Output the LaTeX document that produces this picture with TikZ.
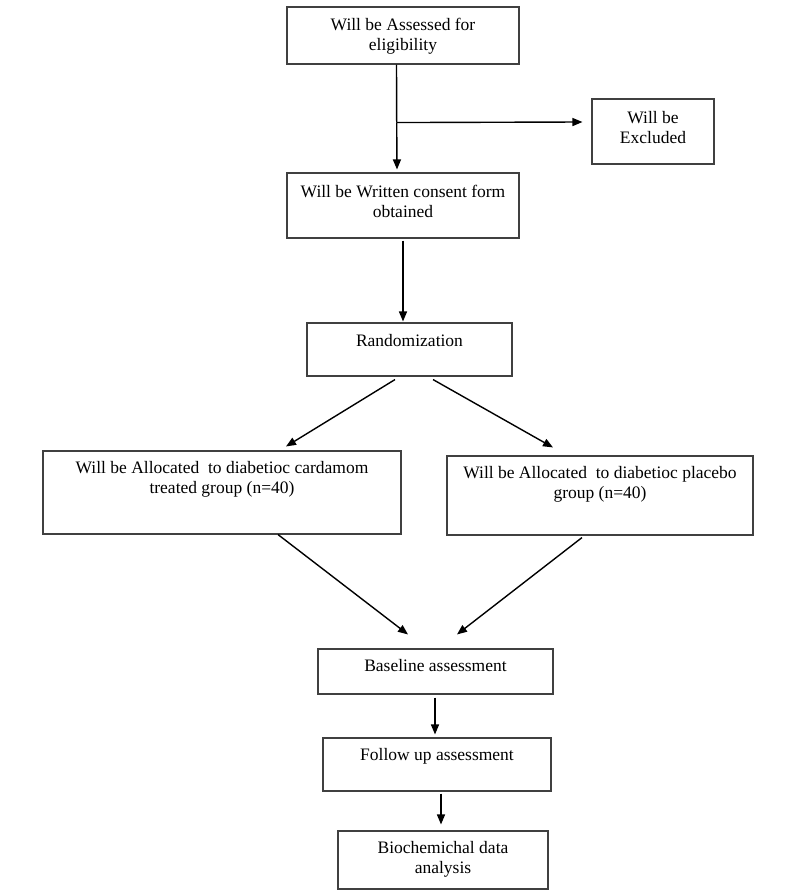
\documentclass[tikz,border=0pt]{standalone}
\usepackage{fontspec}
\setmainfont{Liberation Serif}
\usetikzlibrary{arrows.meta}
\begin{document}
\begin{tikzpicture}[x=1pt,y=-1pt,
  box/.style={draw=black!75,line width=1.1pt,inner sep=0pt,rectangle},
  txt/.style={inner sep=0pt,align=center,font=\fontsize{17.5}{20}\selectfont},
  arr/.style={draw=black,line width=1.4pt,-{Triangle[length=10pt,width=8pt]}}]
\useasboundingbox (0,0) rectangle (800,896);
% boxes
\node[box,minimum width=232pt,minimum height=57pt] (b1) at (403,35.5) {};
\node[box,minimum width=122pt,minimum height=65pt] (ex) at (653,131.5) {};
\node[box,minimum width=232pt,minimum height=65pt] (b2) at (403,205.5) {};
\node[box,minimum width=205pt,minimum height=53pt] (rand) at (409.5,349.5) {};
\node[box,minimum width=358pt,minimum height=83pt] (la) at (222,492.5) {};
\node[box,minimum width=306pt,minimum height=79pt] (ra) at (600,495.5) {};
\node[box,minimum width=235pt,minimum height=45pt] (base) at (435.5,671.5) {};
\node[box,minimum width=228pt,minimum height=53pt] (fu) at (437,764.5) {};
\node[box,minimum width=210pt,minimum height=58pt] (bio) at (443,860) {};
% texts
\node[txt,anchor=north] (t1) at (403,18) {Will be Assessed for\\eligibility};
\node[txt,anchor=north] (tex) at (653,111) {Will be\\Excluded};
\node[txt,anchor=north] (t2) at (403,185) {Will be Written consent form\\obtained};
\node[txt,anchor=base] (trand) at (409.5,346) {Randomization};
\node[txt,anchor=north] (tla) at (222,461) {Will be Allocated~ to diabetioc cardamom\\treated group (n=40)};
\node[txt,anchor=north] (tra) at (600,466) {Will be Allocated~ to diabetioc placebo\\group (n=40)};
\node[txt,anchor=base] (tbase) at (435.5,671) {Baseline assessment};
\node[txt,anchor=base] (tfu) at (437,760) {Follow up assessment};
\node[txt,anchor=north] (tbio) at (443,841) {Biochemichal data\\analysis};
% connectors
\coordinate (br) at ([xshift=-6.3pt,yshift=-58pt]b1.south);
\draw[line width=1.4pt] ([xshift=-6.5pt]b1.south) -- (br);
\draw[arr] (br) -- ([xshift=-6pt,yshift=3pt]b2.north);
\draw[arr] (br) -- ([xshift=-9pt,yshift=9.5pt]ex.west);
\draw[arr] ([yshift=-2pt]b2.south) -- ([xshift=-6.5pt,yshift=1pt]rand.north);
\draw[arr] ([xshift=-14.5pt,yshift=-3pt]rand.south) -- ([xshift=64pt,yshift=4pt]la.north);
\draw[arr] ([xshift=23.5pt,yshift=-3pt]rand.south) -- ([xshift=-47pt,yshift=8pt]ra.north);
\draw[arr] ([xshift=56pt]la.south) -- ([xshift=-27.5pt,yshift=14pt]base.north);
\draw[arr] ([xshift=-18pt,yshift=-2pt]ra.south) -- ([xshift=21.5pt,yshift=14pt]base.north);
\draw[arr] ([xshift=-0.5pt,yshift=-3pt]base.south) -- ([xshift=-2pt,yshift=3pt]fu.north);
\draw[arr] ([xshift=4pt,yshift=-2pt]fu.south) -- ([xshift=-2pt,yshift=6pt]bio.north);
\end{tikzpicture}
\end{document}
